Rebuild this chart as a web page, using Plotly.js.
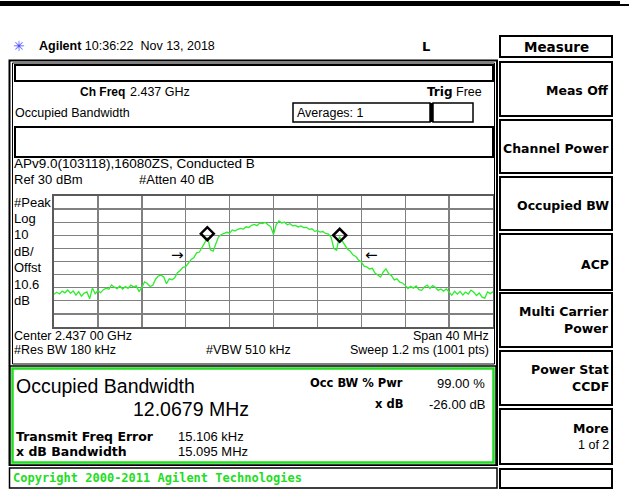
<!DOCTYPE html>
<html>
<head>
<meta charset="utf-8">
<script src="https://cdn.plot.ly/plotly-3.0.1.min.js"></script>
<style>html,body{margin:0;padding:0;background:#fff;}#chart{width:629px;height:491px;}</style>
</head>
<body>
<div id="chart"></div>
<script>
const freqOffsetMHz = [
-20,-19.75,-19.5,-19.25,-19,-18.75,-18.5,-18.25,-18,-17.75,-17.5,-17.25,-17,-16.75,-16.5,-16.25,
-16,-15.75,-15.5,-15.25,-15,-14.75,-14.5,-14.25,-14,-13.75,-13.5,-13.25,-13,-12.75,-12.5,-12.25,
-12,-11.75,-11.5,-11.25,-11,-10.75,-10.5,-10.25,-10,-9.75,-9.5,-9.25,-9,-8.75,-8.5,-8.25,
-8,-7.75,-7.5,-7.25,-7,-6.75,-6.5,-6.25,-6,-5.75,-5.5,-5.25,-5,-4.75,-4.5,-4.25,
-4,-3.75,-3.5,-3.25,-3,-2.75,-2.5,-2.25,-2,-1.75,-1.5,-1.25,-1,-0.75,-0.5,-0.25,
0,0.25,0.5,0.75,1,1.25,1.5,1.75,2,2.25,2.5,2.75,3,3.25,3.5,3.75,
4,4.25,4.5,4.75,5,5.25,5.5,5.75,6,6.25,6.5,6.75,7,7.25,7.5,7.75,
8,8.25,8.5,8.75,9,9.25,9.5,9.75,10,10.25,10.5,10.75,11,11.25,11.5,11.75,
12,12.25,12.5,12.75,13,13.25,13.5,13.75,14,14.25,14.5,14.75,15,15.25,15.5,15.75,
16,16.25,16.5,16.75,17,17.25,17.5,17.75,18,18.25,18.5,18.75,19,19.25,19.5,19.75,20
];
const traceDbm = [
-45.0,-43.5,-44.8,-42.6,-43.9,-41.8,-44.2,-42.5,-45.6,-43.0,-46.4,-44.1,-43.2,-48.5,-40.2,-44.6,
-42.3,-43.8,-41.5,-40.4,-41.2,-37.9,-39.6,-40.8,-38.7,-41.0,-39.2,-40.5,-38.1,-39.4,-38.6,-43.0,
-39.8,-35.6,-36.8,-39.1,-38.2,-33.5,-31.2,-30.4,-31.8,-37.0,-33.2,-33.9,-32.5,-28.6,-26.8,-24.5,
-23.9,-21.2,-18.4,-16.9,-13.4,-12.8,-9.2,-4.5,-1.8,-11.0,-12.1,-6.4,-1.0,0.6,1.2,2.3,
1.6,4.1,3.2,4.6,5.3,4.8,6.5,6.0,7.6,8.3,7.4,9.4,9.0,9.8,8.1,6.5,
0.5,8.2,11.0,9.3,10.1,8.0,8.9,7.3,7.6,6.4,7.2,5.9,6.1,4.6,5.0,3.0,
3.6,2.4,2.9,1.4,1.0,-1.5,-10.2,-11.4,-1.0,-4.2,-6.5,-10.6,-12.2,-15.1,-16.2,-18.8,
-20.4,-23.6,-24.1,-25.7,-25.2,-28.8,-30.3,-31.8,-28.0,-25.6,-29.4,-30.8,-34.0,-33.2,-35.7,-36.4,
-38.2,-40.6,-39.0,-40.3,-38.6,-41.5,-42.0,-39.4,-38.0,-40.6,-38.4,-39.7,-42.1,-41.0,-42.6,-40.9,
-43.4,-45.8,-42.7,-44.9,-42.8,-45.6,-43.3,-44.8,-41.9,-43.5,-46.0,-44.0,-47.2,-48.0,-43.2,-44.5,-43.0
];
const markerFreqMHz = [-6.03, 6.03];
const markerDbm = [1.2, 0.0];
const arrowFreqMHz = [-8.75, 8.95];
const arrowDbm = [-15, -15];
const arrowGlyphs = ["→", "←"];
const softkeys = [["Meas Off"], ["Channel Power"], ["Occupied BW"], ["ACP"], ["Multi Carrier", "Power"], ["Power Stat", "CCDF"], ["More", "1 of 2"]];

// ---- helpers (pixel -> paper) ----
const W = 629, H = 491;
const PX = p => p / W, PY = p => 1 - p / H;
const shapes = [], ann = [];
const REG = "Liberation Sans, Arial, sans-serif";
const BOLD = "DejaVu Sans, Liberation Sans, sans-serif";
const NARROWBOLD = "Liberation Sans, Arial, sans-serif";
function rect(x0, y0, x1, y1, color, width, fill) {
  shapes.push({type: 'rect', xref: 'paper', yref: 'paper', x0: PX(x0), x1: PX(x1), y0: PY(y1), y1: PY(y0),
    line: {color: color || '#000', width: width === undefined ? 1.5 : width}, fillcolor: fill || 'rgba(0,0,0,0)', layer: 'above'});
}
function txt(x, y, s, size, opt) {
  opt = opt || {};
  ann.push({xref: 'paper', yref: 'paper', x: PX(x), y: PY(y), text: s, showarrow: false,
    xanchor: opt.anchor || 'left', yanchor: 'middle', borderpad: 0,
    font: {family: opt.family || REG, size: size, color: opt.color || '#000'}});
}

// header
rect(0, 1, 620, 6, '#000', 0, '#000');
rect(620, 4, 629, 6, '#000', 0, '#000');
txt(12, 46, '✳', 14, {color: '#5050ff', family: 'DejaVu Sans'});
txt(38, 46, '<b>Agilent</b> 10:36:22  Nov 13, 2018', 12.5);
txt(421, 46, '<b>L</b>', 13, {family: BOLD});
rect(500, 36, 612, 57, '#000', 2);
txt(556, 46.5, '<b>Measure</b>', 13.5, {anchor: 'center', family: BOLD});

// left panel frame
rect(9.5, 60.5, 497, 465, '#000', 2);
rect(12.5, 63, 494.5, 364, '#000', 1);
rect(15, 65, 493, 81, '#000', 2);
txt(79, 92, '<b>Ch Freq</b>', 12, {family: NARROWBOLD});
txt(129, 92, '2.437 GHz', 12.5);
txt(426, 92, '<b>Trig</b>', 12, {family: BOLD});
txt(455, 92, 'Free', 12.5);
txt(14, 113, 'Occupied Bandwidth', 12.5);
rect(293, 103, 430, 122, '#000', 1.5);
txt(296, 112.5, 'Averages: 1', 12.5);
rect(430, 103, 433, 122, '#000', 0, '#000');
rect(433, 103, 473, 122, '#000', 1.5);
rect(15, 127, 493, 157, '#000', 2);
txt(13, 163, 'APv9.0(103118),16080ZS, Conducted B', 13.5);
txt(13, 179, 'Ref 30 dBm', 13);
txt(138, 179, '#Atten 40 dB', 13);
const side = ['#Peak', 'Log', '10', 'dB/', 'Offst', '10.6', 'dB'];
side.forEach((s, i) => txt(13, 202 + i * 16.4, s, 13));
txt(13, 336, 'Center 2.437 00 GHz', 12.5);
txt(490, 336, 'Span 40 MHz', 12.5, {anchor: 'right'});
txt(13, 350, '#Res BW 180 kHz', 12.5);
txt(205, 350, '#VBW 510 kHz', 12.5);
txt(490, 350, 'Sweep 1.2 ms (1001 pts)', 12.5, {anchor: 'right'});

// result box
rect(10, 366, 496, 465, '#000', 1.5, '#fff');
rect(12.5, 368.5, 493.5, 462.5, '#22dd22', 2.5);
txt(15, 386, 'Occupied Bandwidth', 19.5);
txt(132, 409, '12.0679 MHz', 19.5);
txt(404, 383, '<b>Occ BW % Pwr</b>', 11.5, {anchor: 'right', family: BOLD});
txt(486, 383, '99.00 %', 13, {anchor: 'right'});
txt(404, 404, '<b>x dB</b>', 11.5, {anchor: 'right', family: BOLD});
txt(486, 404, '-26.00 dB', 13, {anchor: 'right'});
txt(15, 436, '<b>Transmit Freq Error</b>', 12.5, {family: BOLD});
txt(177, 436, '15.106 kHz', 13);
txt(15, 451, '<b>x dB Bandwidth</b>', 12.5, {family: BOLD});
txt(177, 451, '15.095 MHz', 13);

// copyright bar
rect(9.5, 468, 497, 488, '#000', 1.5);
txt(12, 478, '<b>Copyright 2000-2011 Agilent Technologies</b>', 12, {color: '#22dd22', family: 'DejaVu Sans Mono, monospace'});

// softkeys
const keyTop = [62, 120, 177, 234, 293, 351, 409];
const keyBot = [116, 173, 230, 290, 347, 405, 464];
softkeys.forEach((lines, i) => {
  rect(500, keyTop[i], 612, keyBot[i], '#000', 2);
  const mid = (keyTop[i] + keyBot[i]) / 2;
  if (lines.length === 1) {
    txt(610, mid + 2, '<b>' + lines[0] + '</b>', 12.5, {anchor: 'right', family: BOLD});
  } else if (i === 6) {
    txt(610, mid - 8, '<b>' + lines[0] + '</b>', 12.5, {anchor: 'right', family: BOLD});
    txt(610, mid + 8, lines[1], 12.5, {anchor: 'right'});
  } else {
    txt(610, mid - 9, '<b>' + lines[0] + '</b>', 12.5, {anchor: 'right', family: BOLD});
    txt(610, mid + 8, '<b>' + lines[1] + '</b>', 12.5, {anchor: 'right', family: BOLD});
  }
});
rect(500, 469, 612, 488, '#000', 2);

// arrows on plot (data coords)
arrowFreqMHz.forEach((f, i) => ann.push({xref: 'x', yref: 'y', x: f, y: arrowDbm[i], text: arrowGlyphs[i],
  showarrow: false, font: {family: 'DejaVu Sans', size: 15, color: '#000'}}));

const traces = [
  {x: freqOffsetMHz, y: traceDbm, type: 'scatter', mode: 'lines', line: {color: '#2cee2c', width: 1.3}, hoverinfo: 'skip'},
  {x: markerFreqMHz, y: markerDbm, type: 'scatter', mode: 'markers',
   marker: {symbol: 'diamond-open', size: 10, color: '#000', line: {width: 2.5, color: '#000'}}, hoverinfo: 'skip'}
];

const layout = {
  width: W, height: H, margin: {l: 0, r: 0, t: 0, b: 0},
  paper_bgcolor: '#fff', plot_bgcolor: '#fff', showlegend: false,
  xaxis: {domain: [PX(54), PX(493)], range: [-20, 20], dtick: 4, tick0: -20, showticklabels: false, ticks: '',
    showgrid: true, gridcolor: '#808080', gridwidth: 1.4, zeroline: false,
    showline: true, mirror: true, linecolor: '#5a5a5a', linewidth: 2, fixedrange: true},
  yaxis: {domain: [PY(327), PY(196)], range: [-70, 30], dtick: 10, tick0: -70, showticklabels: false, ticks: '',
    showgrid: true, gridcolor: '#808080', gridwidth: 1.4, zeroline: false,
    showline: true, mirror: true, linecolor: '#5a5a5a', linewidth: 2, fixedrange: true},
  shapes: shapes, annotations: ann
};
Plotly.newPlot('chart', traces, layout, {staticPlot: true, displayModeBar: false});
</script>
</body>
</html>
